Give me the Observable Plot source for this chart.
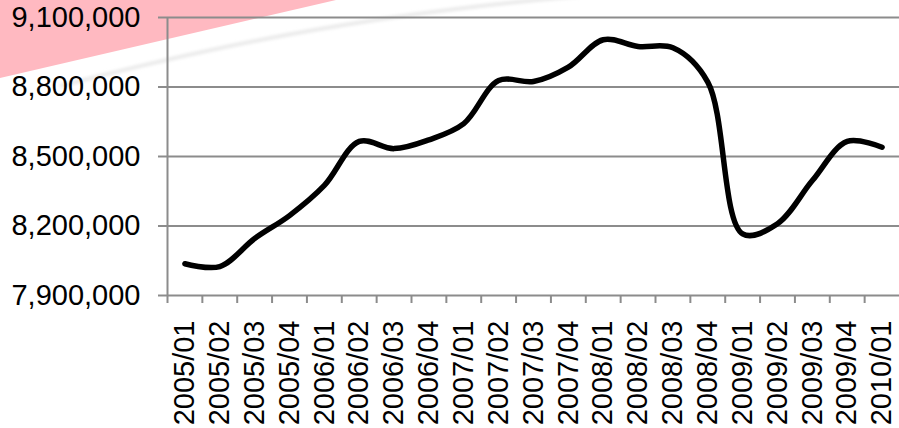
<!DOCTYPE html>
<html><head><meta charset="utf-8">
<script src="https://cdn.jsdelivr.net/npm/d3@7"></script>
<script src="https://cdn.jsdelivr.net/npm/@observablehq/plot@0.6"></script>
<style>
body{margin:0;background:#fff;}
#wrap{position:relative;width:899px;height:428px;overflow:hidden;background:#fff;}
#bg{position:absolute;left:0;top:0;}
#chart{position:absolute;left:0;top:0;}
</style></head><body>
<div id="wrap">
<svg id="bg" width="899" height="428">
  <defs><filter id="blur"><feGaussianBlur stdDeviation="1.5"/></filter></defs>
  <polygon points="0,0 336,0 0,78" fill="#ffb9c1"/>
  <path d="M60,86 C200,50 350,16 580,-4" fill="none" stroke="#ebebeb" stroke-width="4" filter="url(#blur)"/>
</svg>
<div id="chart"></div>
</div>
<script>
const quarters = ["2005/01","2005/02","2005/03","2005/04","2006/01","2006/02","2006/03","2006/04",
  "2007/01","2007/02","2007/03","2007/04","2008/01","2008/02","2008/03","2008/04",
  "2009/01","2009/02","2009/03","2009/04","2010/01"];
const values = [8037000, 8025000, 8146000, 8245000, 8375000, 8565000, 8534000, 8572000,
  8642000, 8828000, 8824000, 8886000, 9004000, 8975000, 8969000, 8821000,
  8166000, 8210000, 8396000, 8565000, 8540000];
const yTicks = [7900000, 8200000, 8500000, 8800000, 9100000];

const data = quarters.map((q, i) => ({q, v: values[i]}));
const W = 899, H = 428, mL = 167, mR = 0, mT = 17, mB = 133;
const step = (W - mL - mR) / quarters.length;
const gray = "#8c8c8c";
const fmt = d3.format(",");

const plot = Plot.plot({
  width: W, height: H,
  marginLeft: mL, marginRight: mR, marginTop: mT, marginBottom: mB,
  style: {background: "transparent", fontFamily: "'Liberation Sans', Arial, sans-serif", fontSize: "29px", color: "#000", overflow: "visible"},
  x: {type: "point", domain: quarters, padding: 0.5, round: false, label: null},
  y: {domain: [7900000, 9100000], label: null},
  marks: [
    Plot.ruleY(yTicks, {stroke: gray, strokeWidth: 2}),
    Plot.ruleX([quarters[0]], {dx: -step / 2, stroke: gray, strokeWidth: 2, insetBottom: -8}),
    Plot.ruleX(quarters.slice(1), {dx: -step / 2, stroke: gray, strokeWidth: 2, insetTop: H - mT - mB, insetBottom: -8}),
    Plot.axisY(yTicks, {tickSize: 9, tickPadding: 18, tickFormat: fmt, fontSize: 29, stroke: gray, strokeWidth: 2, fill: "#000", label: null}),
    Plot.axisX({tickRotate: -90, tickSize: 0, tickPadding: 25, fontSize: 29, fill: "#000", label: null}),
    Plot.lineY(data, {x: "q", y: "v", curve: "catmull-rom", stroke: "#000", strokeWidth: 5.5, strokeLinecap: "round"})
  ]
});
document.getElementById("chart").appendChild(plot);
</script>
</body></html>
